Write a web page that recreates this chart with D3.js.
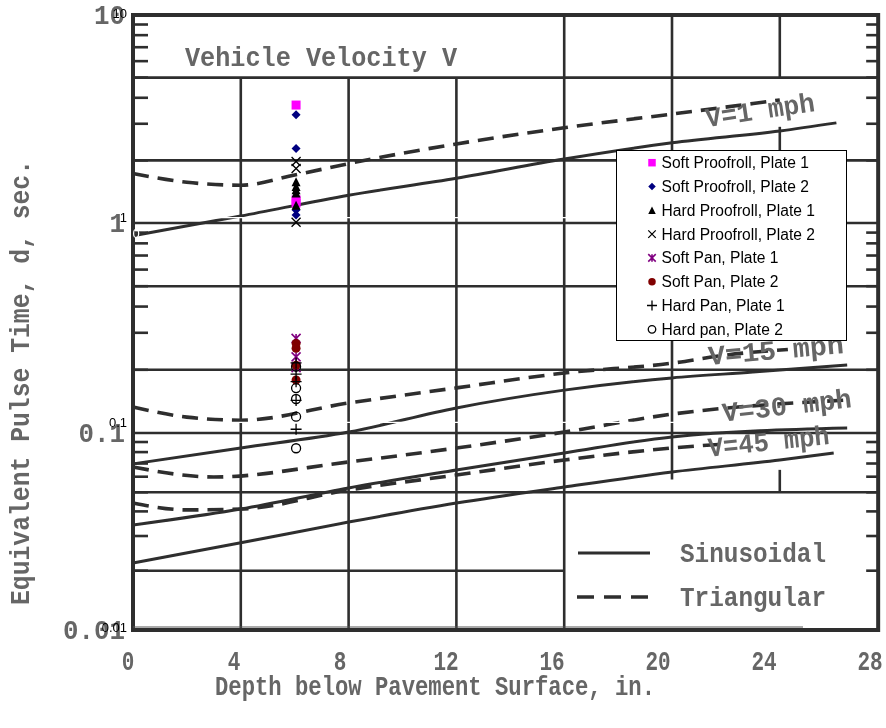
<!DOCTYPE html>
<html>
<head>
<meta charset="utf-8">
<script src="https://cdn.jsdelivr.net/npm/d3@7"></script>
<style>
  body { margin: 0; background: #fff; }
  svg { display: block; }
</style>
</head>
<body>
<svg id="chart" width="886" height="728"></svg>
<script>
// ---- Design curves: [depth (in.), equivalent pulse time (sec)] ----
const v1Sin  = [[0,0.87],[4,1.08],[8,1.36],[12,1.64],[16,2.03],[20,2.43],[24,2.77],[26.1,3.03]];
const v1Tri  = [[0,1.73],[2,1.57],[4,1.52],[6,1.70],[8,1.93],[12,2.40],[16,2.87],[20,3.34],[24,3.9]];
const v15Sin = [[0,0.0697],[4,0.0839],[8,0.101],[12,0.1316],[16,0.160],[20,0.183],[23,0.195],[26.5,0.211]];
const v15Tri = [[0,0.133],[2,0.119],[4,0.115],[8,0.139],[12,0.164],[16,0.193],[20,0.215],[22,0.235],[24.3,0.25]];
const v30Sin = [[0,0.0341],[4,0.0411],[8,0.0526],[12,0.0649],[16,0.0792],[20,0.0955],[26.5,0.1056]];
const v30Tri = [[0,0.0672],[3,0.0598],[8,0.0713],[12,0.0839],[16,0.101],[20,0.123],[26.5,0.1436]];
const v45Sin = [[0,0.0219],[4,0.0277],[8,0.0353],[12,0.0441],[16,0.0532],[20,0.0634],[24,0.0729],[26,0.0791]];
const v45Tri = [[0,0.0441],[2,0.0407],[4,0.0411],[8,0.0514],[12,0.0612],[16,0.0729],[20,0.0839],[22,0.088]];

// ---- Axis tick labels ----
const depthTicks = [0, 4, 8, 12, 16, 20, 24, 28];
const timeTicks = [10, 1, 0.1, 0.01];
const timeTickText = ["10", "1", "0.1", "0.01"];

// ---- Measured pulse times at 6 in. depth ----
const testDepth = 6;
const seriesNames = [
  "Soft Proofroll, Plate 1", "Soft Proofroll, Plate 2",
  "Hard Proofroll, Plate 1", "Hard Proofroll, Plate 2",
  "Soft Pan, Plate 1", "Soft Pan, Plate 2",
  "Hard Pan, Plate 1", "Hard pan, Plate 2"
];
const softProofroll1 = [3.55, 1.22, 1.18];
const softProofroll2 = [3.18, 2.18, 1.09, 1.03];
const hardProofroll1 = [1.50, 1.42, 1.37, 1.32, 1.15];
const hardProofroll2 = [1.88, 1.74, 0.95];
const softPan1 = [0.257, 0.209, 0.185];
const softPan2 = [0.243, 0.230, 0.190, 0.161];
const hardPan1 = [0.195, 0.172, 0.158, 0.128, 0.0925];
const hardPan2 = [0.187, 0.147, 0.130, 0.1066, 0.0747];
const seriesValues = [softProofroll1, softProofroll2, hardProofroll1, hardProofroll2,
                      softPan1, softPan2, hardPan1, hardPan2];

// marker styling per series
const seriesStyle = [
  {shape: "square",   color: "#ff00ff"},
  {shape: "diamond",  color: "#000080"},
  {shape: "triangle", color: "#000000"},
  {shape: "cross",    color: "#000000"},
  {shape: "star",     color: "#800080"},
  {shape: "dot",      color: "#800000"},
  {shape: "plus",     color: "#000000"},
  {shape: "ring",     color: "#000000"}
];

const svg = d3.select("#chart");
svg.append("rect").attr("width", 886).attr("height", 728).attr("fill", "#fff");
const defs = svg.append("defs");
defs.append("filter").attr("id", "soft")
  .append("feGaussianBlur").attr("stdDeviation", 0.75);

// ---------- Design chart (typewritten figure) ----------
const xs = d3.scaleLinear().domain([0, 28]).range([133, 887.6]);
const xLab = d3.scaleLinear().domain([0, 28]).range([128, 870]);
const ys = d3.scaleLog().domain([0.01, 0.1, 1, 10]).range([630, 433, 223, 15]);
const xEnd = 27.65;
const ink = "#2e2e2e";
const typeInk = "#666";
const typeFont = "'Liberation Mono', 'DejaVu Sans Mono', monospace";

const fig = svg.append("g").attr("filter", "url(#soft)");

// horizontal rulings
const hFull = [5, 2, 1, 0.5, 0.2, 0.1, 0.05];
fig.selectAll(null).data(hFull).join("line")
  .attr("x1", xs(0)).attr("x2", xs(xEnd))
  .attr("y1", d => ys(d)).attr("y2", d => ys(d))
  .attr("stroke", ink).attr("stroke-width", 2.6);
fig.append("line")
  .attr("x1", xs(0)).attr("x2", xs(16))
  .attr("y1", ys(0.02)).attr("y2", ys(0.02))
  .attr("stroke", ink).attr("stroke-width", 2.6);

// vertical rulings: [depth, low value, high value]
const vSegs = [[4, 0.01, 5], [8, 0.01, 5], [12, 0.01, 5], [16, 0.01, 10],
               [20, 0.058, 10], [24, 5, 10], [24, 2, 2.9], [24, 0.05, 0.065]];
fig.selectAll(null).data(vSegs).join("line")
  .attr("x1", d => xs(d[0])).attr("x2", d => xs(d[0]))
  .attr("y1", d => ys(d[1])).attr("y2", d => ys(d[2]))
  .attr("stroke", ink).attr("stroke-width", 2.6);

// minor log ticks on both side frames
const minor = [];
[0.01, 0.1, 1].forEach(dec => [2, 3, 4, 5, 6, 7, 8, 9].forEach(m => minor.push(dec * m)));
fig.selectAll(null).data(minor).join("line")
  .attr("x1", xs(0)).attr("x2", xs(0) + 15)
  .attr("y1", d => ys(d)).attr("y2", d => ys(d))
  .attr("stroke", ink).attr("stroke-width", 2.6);
fig.selectAll(null).data(minor).join("line")
  .attr("x1", xs(xEnd)).attr("x2", xs(xEnd) - 12)
  .attr("y1", d => ys(d)).attr("y2", d => ys(d))
  .attr("stroke", ink).attr("stroke-width", 2.6);

// frame
fig.append("rect")
  .attr("x", xs(0)).attr("y", ys(10))
  .attr("width", xs(xEnd) - xs(0)).attr("height", ys(0.01) - ys(10))
  .attr("fill", "none").attr("stroke", ink).attr("stroke-width", 4);

// curves
const line = d3.line().x(d => xs(d[0])).y(d => ys(d[1])).curve(d3.curveMonotoneX);
[v1Sin, v15Sin, v30Sin, v45Sin].forEach(c => fig.append("path")
  .attr("d", line(c)).attr("fill", "none").attr("stroke", ink).attr("stroke-width", 3));
[v1Tri, v15Tri, v30Tri, v45Tri].forEach(c => fig.append("path")
  .attr("d", line(c)).attr("fill", "none").attr("stroke", ink)
  .attr("stroke-width", 3.6).attr("stroke-dasharray", "16,9"));

// typewritten text: tall, narrow typewriter face
function type(x, y, str, len, opts = {}) {
  const t = fig.append("text")
    .attr("x", 0).attr("y", 0)
    .attr("font-family", typeFont).attr("font-size", opts.size || 21)
    .attr("font-weight", "bold").attr("fill", typeInk)
    .attr("text-anchor", opts.anchor || "start")
    .attr("transform", `translate(${x},${y}) rotate(${opts.rotate || 0}) scale(1,${opts.stretch || 1.3})`)
    .text(str);
  if (len) t.attr("textLength", len).attr("lengthAdjust", "spacingAndGlyphs");
  return t;
}
type(185, 66, "Vehicle Velocity V", 272);
type(xs(21.3), ys(2.89), "V=1 mph", 110, {rotate: -8.5});
type(xs(21.37), ys(0.211), "V=15 mph", 136, {rotate: -5});
type(xs(21.9), ys(0.113), "V=30 mph", 130, {rotate: -6.5});
type(xs(21.37), ys(0.0758), "V=45 mph", 122, {rotate: -6});

// figure key
fig.append("line").attr("x1", 578).attr("x2", 650).attr("y1", 553).attr("y2", 553)
  .attr("stroke", ink).attr("stroke-width", 3);
fig.append("line").attr("x1", 577).attr("x2", 652).attr("y1", 597).attr("y2", 597)
  .attr("stroke", ink).attr("stroke-width", 3.6).attr("stroke-dasharray", "17,10");
type(680, 562, "Sinusoidal", 146);
type(680, 606, "Triangular", 146);

// axis tick labels and titles
depthTicks.forEach(d => type(xLab(d), 670, String(d), null, {anchor: "middle", stretch: 1.35}));
timeTicks.forEach((d, i) => type(125, ys(d) + 9, timeTickText[i], timeTickText[i].length * 15.5,
  {anchor: "end", stretch: 1.35}));
type(215, 695, "Depth below Pavement Surface, in.", 440);
type(29, 605, "Equivalent Pulse Time, d, sec.", 445, {rotate: -90});

// ---------- Test-data overlay ----------
const xx = d3.scaleLinear().domain([0, 25]).range([136, 803]);
const yx = d3.scaleLog().domain([0.01, 10]).range([627, 13]);
const over = svg.append("g");

// light rulings and axis of overlay plot
over.selectAll(null).data([1, 0.1]).join("line")
  .attr("x1", xx(0)).attr("x2", xx(25))
  .attr("y1", d => yx(d)).attr("y2", d => yx(d))
  .attr("stroke", "#fff").attr("stroke-width", 1.2);
over.append("line")
  .attr("x1", 133).attr("x2", xx(25))
  .attr("y1", yx(0.01)).attr("y2", yx(0.01))
  .attr("stroke", "#555").attr("stroke-width", 1);
over.selectAll(null).data(timeTicks).join("text")
  .attr("x", 127).attr("y", d => yx(d) + 4.5)
  .attr("text-anchor", "end")
  .attr("font-family", "'Liberation Sans', Arial, sans-serif").attr("font-size", 13)
  .attr("fill", "#000").text((d, i) => timeTickText[i]);
over.append("text")
  .attr("x", xx(0)).attr("y", yx(1) + 20)
  .attr("text-anchor", "middle")
  .attr("font-family", "'Liberation Sans', Arial, sans-serif").attr("font-size", 13)
  .attr("fill", "#fff").text("0");

function markerPath(shape, s) {
  const h = s / 2;
  switch (shape) {
    case "square": return `M${-h},${-h}h${s}v${s}h${-s}Z`;
    case "diamond": return `M0,${-h}L${h},0L0,${h}L${-h},0Z`;
    case "triangle": return `M0,${-h}L${h},${h}L${-h},${h}Z`;
    case "cross": return `M${-h},${-h}L${h},${h}M${h},${-h}L${-h},${h}`;
    case "star": return `M${-h},${-h}L${h},${h}M${h},${-h}L${-h},${h}M0,${-h}V${h}`;
    case "plus": return `M${-h},0H${h}M0,${-h}V${h}`;
    default: return d3.arc()({innerRadius: 0, outerRadius: h, startAngle: 0, endAngle: 2 * Math.PI});
  }
}
const stroked = new Set(["cross", "star", "plus", "ring"]);
function drawMarker(g, st, s) {
  const p = g.append("path").attr("d", markerPath(st.shape, s));
  if (stroked.has(st.shape)) {
    p.attr("fill", "none").attr("stroke", st.color).attr("stroke-width", st.shape === "star" ? 1.6 : 1.3);
  } else {
    p.attr("fill", st.color);
  }
}
seriesValues.forEach((vals, i) => {
  vals.forEach(v => {
    const g = over.append("g").attr("transform", `translate(${xx(testDepth)},${yx(v)})`);
    drawMarker(g, seriesStyle[i], seriesStyle[i].shape === "plus" ? 11 : 9);
  });
});

// legend
const lg = over.append("g");
lg.append("rect").attr("x", 616.5).attr("y", 150.5).attr("width", 230).attr("height", 190)
  .attr("fill", "#fff").attr("stroke", "#000").attr("stroke-width", 1);
seriesNames.forEach((name, i) => {
  const cy = 162.7 + i * 23.8;
  const g = lg.append("g").attr("transform", `translate(652,${cy})`);
  drawMarker(g, seriesStyle[i], seriesStyle[i].shape === "plus" ? 10 : 7.5);
  lg.append("text").attr("x", 661.5).attr("y", cy + 5.5)
    .attr("font-family", "'Liberation Sans', Arial, sans-serif").attr("font-size", 15.6)
    .attr("fill", "#000").text(name);
});
</script>
</body>
</html>
